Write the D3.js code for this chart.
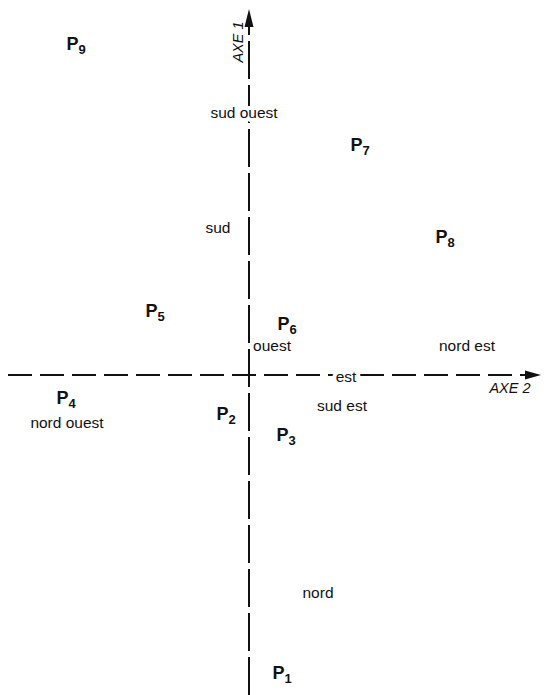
<!DOCTYPE html>
<html>
<head>
<meta charset="utf-8">
<script src="https://cdn.jsdelivr.net/npm/d3@7"></script>
<style>
  html, body { margin: 0; padding: 0; background: #fff; }
  svg { display: block; font-family: "Liberation Sans", Arial, Helvetica, sans-serif; }
</style>
</head>
<body>
<svg id="chart" width="549" height="695"></svg>
<script>
// Individuals P1..P9 on the first factorial plane
const pointNames = ["P1", "P2", "P3", "P4", "P5", "P6", "P7", "P8", "P9"];
const pointAxe2  = [0.165, -0.115, 0.185, -0.915, -0.47, 0.19, 0.555, 0.98, -0.865];
const pointAxe1  = [-1.495, -0.20, -0.305, -0.12, 0.315, 0.25, 1.145, 0.685, 1.65];

// Supplementary modalities (wind directions)
const modNames = ["nord", "nord est", "est", "sud est", "sud", "sud ouest", "ouest", "nord ouest"];
const modAxe2  = [0.345, 1.09, 0.485, 0.465, -0.155, -0.025, 0.115, -0.91];
const modAxe1  = [-1.09, 0.145, -0.01, -0.155, 0.735, 1.31, 0.145, -0.24];

// Axis extents and titles
const axe2Extent = [-1.205, 1.46];
const axe1Extent = [-1.6, 1.83];
const axisTitles = ["AXE 1", "AXE 2"];

const svg = d3.select("#chart");
const x = d3.scaleLinear().domain([-1.2, 1.5]).range([9, 549]);
const y = d3.scaleLinear().domain([-1.6, 1.8]).range([695, 15]);

const ink = "#111";

// Axes
const axisG = svg.append("g");
axisG.append("line")
  .attr("x1", x(axe2Extent[0])).attr("x2", x(axe2Extent[1]) - 12)
  .attr("y1", y(0)).attr("y2", y(0))
  .attr("stroke", ink).attr("stroke-width", 2)
  .attr("stroke-dasharray", "24,8");
axisG.append("line")
  .attr("x1", x(0)).attr("x2", x(0))
  .attr("y1", y(axe1Extent[0])).attr("y2", y(axe1Extent[1]) + 12)
  .attr("stroke", ink).attr("stroke-width", 2)
  .attr("stroke-dasharray", "38,6");

// Arrowheads
const hx = x(axe2Extent[1]), hy = y(0);
axisG.append("path")
  .attr("d", `M${hx},${hy} L${hx - 16},${hy - 4.5} L${hx - 16},${hy + 4.5} Z`)
  .attr("fill", ink);
const vx = x(0), vy = y(axe1Extent[1]);
axisG.append("path")
  .attr("d", `M${vx},${vy} L${vx - 4.5},${vy + 18} L${vx + 4.5},${vy + 18} Z`)
  .attr("fill", ink);

// Axis titles
svg.append("text")
  .attr("transform", `translate(${x(0) - 6},${y(axe1Extent[1]) + 33}) rotate(-90)`)
  .attr("text-anchor", "middle")
  .attr("font-size", 14.5).attr("font-style", "italic")
  .attr("fill", ink)
  .text(axisTitles[0]);
svg.append("text")
  .attr("x", x(axe2Extent[1]) - 31).attr("y", y(0) + 18)
  .attr("text-anchor", "middle")
  .attr("font-size", 14.5).attr("font-style", "italic")
  .attr("fill", ink)
  .text(axisTitles[1]);

// Modalities
const haloLabels = new Set(["est", "sud ouest"]);
svg.append("g").selectAll("text")
  .data(modNames.map((n, i) => ({ n, a2: modAxe2[i], a1: modAxe1[i] })))
  .join("text")
  .attr("x", d => x(d.a2)).attr("y", d => y(d.a1) + 5)
  .attr("text-anchor", "middle")
  .attr("font-size", 15.5)
  .attr("fill", ink)
  .attr("stroke", d => haloLabels.has(d.n) ? "#fff" : "none")
  .attr("stroke-width", 8)
  .attr("paint-order", "stroke")
  .text(d => d.n);

// Individuals
const pts = svg.append("g").selectAll("text")
  .data(pointNames.map((n, i) => ({ n, a2: pointAxe2[i], a1: pointAxe1[i] })))
  .join("text")
  .attr("x", d => x(d.a2)).attr("y", d => y(d.a1) + 5)
  .attr("text-anchor", "middle")
  .attr("font-weight", "bold")
  .attr("fill", ink);
pts.append("tspan").attr("font-size", 18).text(d => d.n[0]);
pts.append("tspan").attr("font-size", 13).attr("dy", 4).text(d => d.n.slice(1));
</script>
</body>
</html>
